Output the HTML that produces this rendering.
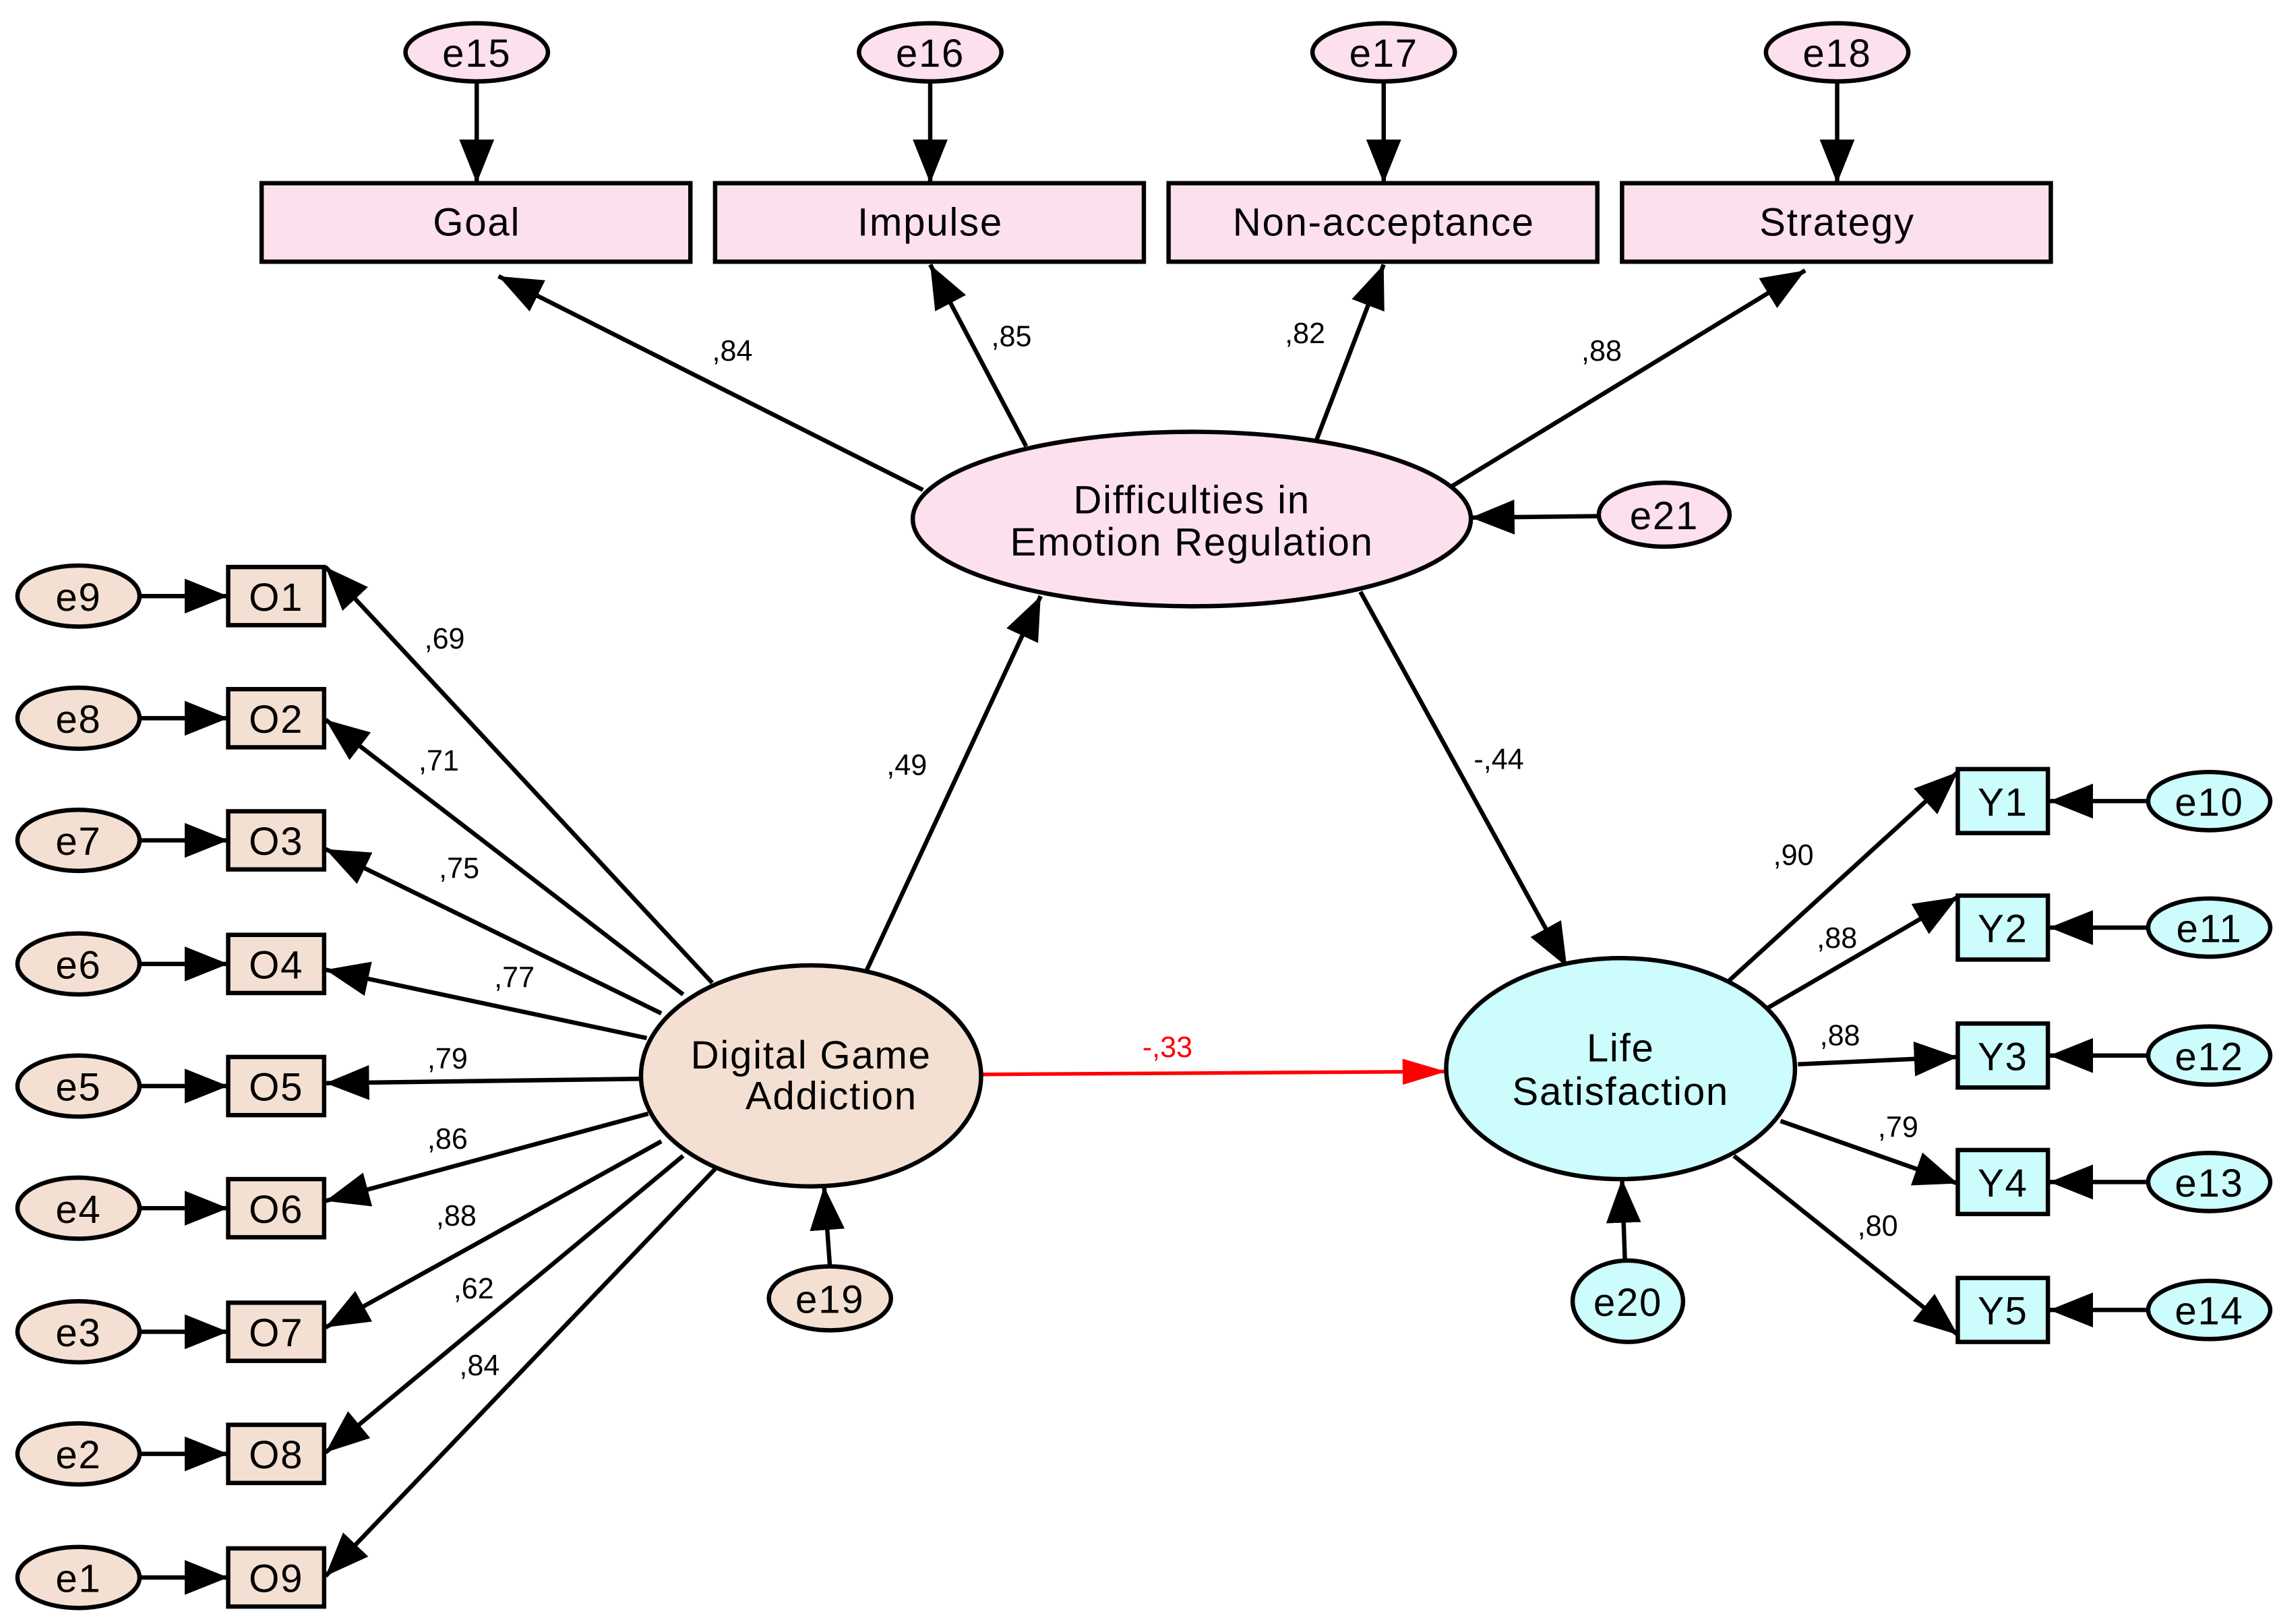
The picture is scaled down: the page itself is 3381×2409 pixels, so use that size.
<!DOCTYPE html>
<html><head><meta charset="utf-8"><style>html,body{margin:0;padding:0;background:#fff}svg{display:block}</style></head>
<body>
<svg width="3381" height="2409" viewBox="0 0 1568 1117" preserveAspectRatio="none" xmlns="http://www.w3.org/2000/svg" font-family="Liberation Sans, Arial, sans-serif">
<defs>
<marker id="a" markerUnits="userSpaceOnUse" markerWidth="32" markerHeight="24" refX="30" refY="12" orient="auto"><path d="M0,0 L30,12 L0,24 Z" fill="#000"/></marker>
<marker id="r" markerUnits="userSpaceOnUse" markerWidth="32" markerHeight="20" refX="30" refY="9" orient="auto"><path d="M0,0 L30,9 L0,18 Z" fill="#f00"/></marker>
</defs>
<rect width="1568" height="1117" fill="#fff"/>
<g stroke="#000" stroke-width="3" fill="none" marker-end="url(#a)">
<line x1="328" y1="56" x2="328" y2="126"/>
<line x1="640" y1="56" x2="640" y2="126"/>
<line x1="952" y1="56" x2="952" y2="126"/>
<line x1="1264" y1="56" x2="1264" y2="126"/>
<line x1="635" y1="337" x2="343" y2="190"/>
<line x1="706" y1="307" x2="640" y2="182"/>
<line x1="906" y1="302" x2="952" y2="182"/>
<line x1="998" y1="335" x2="1242" y2="186"/>
<line x1="1100" y1="355" x2="1012" y2="356"/>
<line x1="596" y1="668" x2="716" y2="410"/>
<line x1="936" y1="407" x2="1078" y2="665"/>
<line x1="490" y1="676" x2="224" y2="390"/>
<line x1="470" y1="684" x2="224" y2="495"/>
<line x1="455" y1="697" x2="224" y2="584"/>
<line x1="445" y1="714" x2="224" y2="667"/>
<line x1="442" y1="742" x2="224" y2="745"/>
<line x1="446" y1="766" x2="224" y2="826"/>
<line x1="455" y1="785" x2="224" y2="913"/>
<line x1="470" y1="795" x2="224" y2="999"/>
<line x1="493" y1="803" x2="224" y2="1084"/>
<line x1="571" y1="871" x2="567" y2="816"/>
<line x1="1118" y1="867" x2="1116" y2="811"/>
<line x1="1188" y1="676" x2="1347" y2="531"/>
<line x1="1215" y1="694" x2="1347" y2="617"/>
<line x1="1237" y1="732" x2="1347" y2="727"/>
<line x1="1225" y1="771" x2="1347" y2="814"/>
<line x1="1193" y1="795" x2="1347" y2="918"/>
<line x1="96" y1="410" x2="157" y2="410"/><line x1="96" y1="494" x2="157" y2="494"/><line x1="96" y1="578" x2="157" y2="578"/><line x1="96" y1="663" x2="157" y2="663"/><line x1="96" y1="747" x2="157" y2="747"/><line x1="96" y1="831" x2="157" y2="831"/><line x1="96" y1="916" x2="157" y2="916"/><line x1="96" y1="1000" x2="157" y2="1000"/><line x1="96" y1="1085" x2="157" y2="1085"/>
<line x1="1478" y1="551" x2="1410" y2="551"/><line x1="1478" y1="638" x2="1410" y2="638"/><line x1="1478" y1="726" x2="1410" y2="726"/><line x1="1478" y1="813" x2="1410" y2="813"/><line x1="1478" y1="901" x2="1410" y2="901"/>
</g>
<line x1="676" y1="739" x2="995" y2="737" stroke="#f00" stroke-width="2.5" marker-end="url(#r)"/>
<g stroke="#000" stroke-width="3">
<g fill="#fde0ee">
<ellipse cx="328" cy="36" rx="49" ry="20"/><ellipse cx="640" cy="36" rx="49" ry="20"/><ellipse cx="952" cy="36" rx="49" ry="20"/><ellipse cx="1264" cy="36" rx="49" ry="20"/>
<rect x="180" y="126" width="295" height="54"/><rect x="492" y="126" width="295" height="54"/><rect x="804" y="126" width="295" height="54"/><rect x="1116" y="126" width="295" height="54"/>
<ellipse cx="820" cy="357" rx="192" ry="60"/><ellipse cx="1145" cy="354" rx="45" ry="22"/>
</g>
<g fill="#f4e0d2">
<ellipse cx="54" cy="410" rx="42" ry="21"/><ellipse cx="54" cy="494" rx="42" ry="21"/><ellipse cx="54" cy="578" rx="42" ry="21"/><ellipse cx="54" cy="663" rx="42" ry="21"/><ellipse cx="54" cy="747" rx="42" ry="21"/><ellipse cx="54" cy="831" rx="42" ry="21"/><ellipse cx="54" cy="916" rx="42" ry="21"/><ellipse cx="54" cy="1000" rx="42" ry="21"/><ellipse cx="54" cy="1085" rx="42" ry="21"/>
<rect x="157" y="390" width="66" height="40"/><rect x="157" y="474" width="66" height="40"/><rect x="157" y="558" width="66" height="40"/><rect x="157" y="643" width="66" height="40"/><rect x="157" y="727" width="66" height="40"/><rect x="157" y="811" width="66" height="40"/><rect x="157" y="896" width="66" height="40"/><rect x="157" y="980" width="66" height="40"/><rect x="157" y="1065" width="66" height="40"/>
<ellipse cx="558" cy="740" rx="117" ry="76"/><ellipse cx="571" cy="893" rx="42" ry="22"/>
</g>
<g fill="#ccfcfc">
<ellipse cx="1115" cy="735" rx="120" ry="76"/><ellipse cx="1120" cy="895" rx="38" ry="28"/>
<rect x="1347" y="529" width="62" height="44"/><rect x="1347" y="616" width="62" height="44"/><rect x="1347" y="704" width="62" height="44"/><rect x="1347" y="791" width="62" height="44"/><rect x="1347" y="879" width="62" height="44"/>
<ellipse cx="1520" cy="551" rx="42" ry="20"/><ellipse cx="1520" cy="638" rx="42" ry="20"/><ellipse cx="1520" cy="726" rx="42" ry="20"/><ellipse cx="1520" cy="813" rx="42" ry="20"/><ellipse cx="1520" cy="901" rx="42" ry="20"/>
</g>
</g>
<g font-size="27" letter-spacing="0.8" text-anchor="middle" fill="#000">
<text x="328" y="46">e15</text><text x="640" y="46">e16</text><text x="952" y="46">e17</text><text x="1264" y="46">e18</text>
<text x="328" y="162">Goal</text><text x="640" y="162">Impulse</text><text x="952" y="162">Non-acceptance</text><text x="1264" y="162">Strategy</text>
<text x="820" y="353">Difficulties in</text><text x="820" y="382">Emotion Regulation</text>
<text x="1145" y="364">e21</text>
<text x="54" y="420">e9</text><text x="54" y="504">e8</text><text x="54" y="588">e7</text><text x="54" y="673">e6</text><text x="54" y="757">e5</text><text x="54" y="841">e4</text><text x="54" y="926">e3</text><text x="54" y="1010">e2</text><text x="54" y="1095">e1</text>
<text x="190" y="420">O1</text><text x="190" y="504">O2</text><text x="190" y="588">O3</text><text x="190" y="673">O4</text><text x="190" y="757">O5</text><text x="190" y="841">O6</text><text x="190" y="926">O7</text><text x="190" y="1010">O8</text><text x="190" y="1095">O9</text>
<text x="558" y="735">Digital Game</text><text x="572" y="763">Addiction</text>
<text x="571" y="903">e19</text>
<text x="1115" y="730">Life</text><text x="1115" y="760">Satisfaction</text>
<text x="1120" y="905">e20</text>
<text x="1378" y="561">Y1</text><text x="1378" y="648">Y2</text><text x="1378" y="736">Y3</text><text x="1378" y="823">Y4</text><text x="1378" y="911">Y5</text>
<text x="1520" y="561">e10</text><text x="1520" y="648">e11</text><text x="1520" y="736">e12</text><text x="1520" y="823">e13</text><text x="1520" y="911">e14</text>
</g>
<g font-size="20" fill="#000">
<text x="490" y="248">,84</text><text x="682" y="238">,85</text><text x="884" y="236">,82</text><text x="1088" y="248">,88</text>
<text x="292" y="446">,69</text><text x="288" y="530">,71</text><text x="302" y="604">,75</text><text x="340" y="679">,77</text><text x="294" y="735">,79</text><text x="294" y="790">,86</text><text x="300" y="843">,88</text><text x="312" y="893">,62</text><text x="316" y="946">,84</text>
<text x="610" y="533">,49</text><text x="1014" y="529">-,44</text>
<text x="1220" y="595">,90</text><text x="1250" y="652">,88</text><text x="1252" y="719">,88</text><text x="1292" y="782">,79</text><text x="1278" y="850">,80</text>
<text x="786" y="727" fill="#f00">-,33</text>
</g>
</svg>
</body></html>
